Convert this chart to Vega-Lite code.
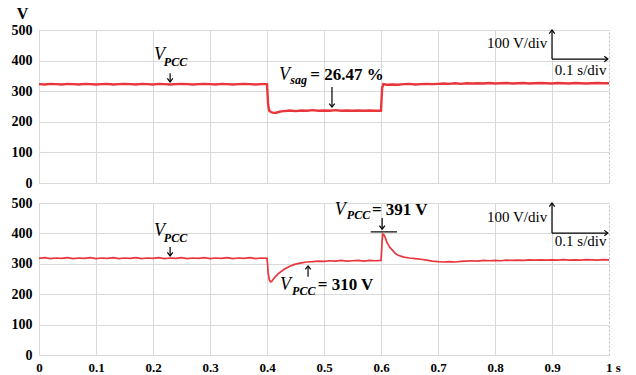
{
  "$schema": "https://vega.github.io/schema/vega-lite/v6.json",
  "padding": {"left": 10, "top": 4, "right": 5, "bottom": 2},
  "spacing": 20,
  "bounds": "flush",
  "background": "white",
  "config": {
    "view": {"stroke": "#bbbbbb", "strokeDash": [2, 2]},
    "axis": {
      "labelFont": "Liberation Serif",
      "labelFontWeight": "bold",
      "labelFontSize": 14,
      "labelColor": "black",
      "labelOverlap": false,
      "ticks": false,
      "domain": false,
      "grid": true,
      "gridColor": "#d9d9d9",
      "gridWidth": 1
    }
  },
  "datasets": {
    "top": [
      {"t":0,"v":323},{"t":0.01,"v":322},{"t":0.02,"v":324},{"t":0.03,"v":323},{"t":0.04,"v":322},{"t":0.05,"v":324},{"t":0.06,"v":323},{"t":0.07,"v":322},{"t":0.08,"v":324},{"t":0.09,"v":323},
      {"t":0.1,"v":322},{"t":0.11,"v":323},{"t":0.12,"v":324},{"t":0.13,"v":322},{"t":0.14,"v":323},{"t":0.15,"v":324},{"t":0.16,"v":323},{"t":0.17,"v":322},{"t":0.18,"v":324},{"t":0.19,"v":323},
      {"t":0.2,"v":322},{"t":0.21,"v":324},{"t":0.22,"v":323},{"t":0.23,"v":322},{"t":0.24,"v":323},{"t":0.25,"v":324},{"t":0.26,"v":323},{"t":0.27,"v":322},{"t":0.28,"v":323},{"t":0.29,"v":324},
      {"t":0.3,"v":323},{"t":0.31,"v":322},{"t":0.32,"v":324},{"t":0.33,"v":323},{"t":0.34,"v":322},{"t":0.35,"v":323},{"t":0.36,"v":324},{"t":0.37,"v":323},{"t":0.38,"v":322},{"t":0.39,"v":323},
      {"t":0.4,"v":323},{"t":0.401,"v":290},{"t":0.402,"v":255},{"t":0.404,"v":236},{"t":0.407,"v":232},{"t":0.41,"v":230},{"t":0.415,"v":229},{"t":0.42,"v":232},{"t":0.425,"v":234},{"t":0.43,"v":235},
      {"t":0.44,"v":237},{"t":0.45,"v":235},{"t":0.46,"v":237},{"t":0.47,"v":236},{"t":0.48,"v":238},{"t":0.49,"v":236},{"t":0.5,"v":237},{"t":0.51,"v":236},{"t":0.52,"v":238},{"t":0.53,"v":236},
      {"t":0.54,"v":237},{"t":0.55,"v":236},{"t":0.56,"v":237},{"t":0.57,"v":236},{"t":0.58,"v":237},{"t":0.59,"v":236},{"t":0.6,"v":236},{"t":0.601,"v":275},{"t":0.602,"v":310},{"t":0.604,"v":323},
      {"t":0.61,"v":321},{"t":0.62,"v":322},{"t":0.63,"v":321},{"t":0.64,"v":323},{"t":0.65,"v":324},{"t":0.66,"v":322},{"t":0.67,"v":323},{"t":0.68,"v":324},{"t":0.69,"v":323},{"t":0.7,"v":324},
      {"t":0.71,"v":325},{"t":0.72,"v":324},{"t":0.73,"v":326},{"t":0.74,"v":324},{"t":0.75,"v":326},{"t":0.76,"v":325},{"t":0.77,"v":326},{"t":0.78,"v":325},{"t":0.79,"v":327},{"t":0.8,"v":325},
      {"t":0.81,"v":326},{"t":0.82,"v":327},{"t":0.83,"v":325},{"t":0.84,"v":326},{"t":0.85,"v":327},{"t":0.86,"v":325},{"t":0.87,"v":326},{"t":0.88,"v":327},{"t":0.89,"v":326},{"t":0.9,"v":325},
      {"t":0.91,"v":327},{"t":0.92,"v":326},{"t":0.93,"v":325},{"t":0.94,"v":327},{"t":0.95,"v":326},{"t":0.96,"v":325},{"t":0.97,"v":326},{"t":0.98,"v":327},{"t":0.99,"v":326},{"t":1.0,"v":326}
    ],
    "bottom": [
      {"t":0,"v":318},{"t":0.01,"v":320},{"t":0.02,"v":317},{"t":0.03,"v":319},{"t":0.04,"v":318},{"t":0.05,"v":320},{"t":0.06,"v":317},{"t":0.07,"v":319},{"t":0.08,"v":318},{"t":0.09,"v":320},
      {"t":0.1,"v":317},{"t":0.11,"v":319},{"t":0.12,"v":318},{"t":0.13,"v":320},{"t":0.14,"v":317},{"t":0.15,"v":319},{"t":0.16,"v":318},{"t":0.17,"v":320},{"t":0.18,"v":317},{"t":0.19,"v":319},
      {"t":0.2,"v":318},{"t":0.21,"v":320},{"t":0.22,"v":317},{"t":0.23,"v":319},{"t":0.24,"v":318},{"t":0.25,"v":320},{"t":0.26,"v":317},{"t":0.27,"v":319},{"t":0.28,"v":318},{"t":0.29,"v":320},
      {"t":0.3,"v":317},{"t":0.31,"v":319},{"t":0.32,"v":318},{"t":0.33,"v":320},{"t":0.34,"v":317},{"t":0.35,"v":319},{"t":0.36,"v":318},{"t":0.37,"v":320},{"t":0.38,"v":317},{"t":0.39,"v":319},
      {"t":0.4,"v":318},{"t":0.401,"v":300},{"t":0.402,"v":270},{"t":0.404,"v":248},{"t":0.406,"v":241},{"t":0.408,"v":242},{"t":0.41,"v":247},{"t":0.415,"v":258},{"t":0.42,"v":268},{"t":0.43,"v":282},
      {"t":0.44,"v":292},{"t":0.45,"v":299},{"t":0.46,"v":303},{"t":0.47,"v":306},{"t":0.48,"v":307},{"t":0.49,"v":309},{"t":0.5,"v":308},{"t":0.51,"v":310},{"t":0.52,"v":309},{"t":0.53,"v":311},
      {"t":0.54,"v":309},{"t":0.55,"v":310},{"t":0.56,"v":311},{"t":0.57,"v":309},{"t":0.58,"v":311},{"t":0.59,"v":310},{"t":0.6,"v":311},{"t":0.601,"v":340},{"t":0.602,"v":375},{"t":0.603,"v":398},
      {"t":0.605,"v":396},{"t":0.608,"v":384},{"t":0.61,"v":372},{"t":0.615,"v":355},{"t":0.62,"v":345},{"t":0.625,"v":334},{"t":0.63,"v":328},{"t":0.64,"v":322},{"t":0.65,"v":319},{"t":0.66,"v":317},
      {"t":0.67,"v":315},{"t":0.68,"v":312},{"t":0.69,"v":309},{"t":0.7,"v":307},{"t":0.71,"v":306},{"t":0.72,"v":307},{"t":0.73,"v":306},{"t":0.74,"v":308},{"t":0.75,"v":309},{"t":0.76,"v":310},
      {"t":0.77,"v":309},{"t":0.78,"v":311},{"t":0.79,"v":310},{"t":0.8,"v":311},{"t":0.81,"v":310},{"t":0.82,"v":312},{"t":0.83,"v":311},{"t":0.84,"v":312},{"t":0.85,"v":311},{"t":0.86,"v":313},
      {"t":0.87,"v":312},{"t":0.88,"v":313},{"t":0.89,"v":312},{"t":0.9,"v":313},{"t":0.91,"v":312},{"t":0.92,"v":314},{"t":0.93,"v":312},{"t":0.94,"v":313},{"t":0.95,"v":312},{"t":0.96,"v":314},
      {"t":0.97,"v":313},{"t":0.98,"v":312},{"t":0.99,"v":314},{"t":1.0,"v":313}
    ],
    "topRules": [
      {"t":0.23,"v":359,"t2":0.23,"v2":332},
      {"t":0.514,"v":314,"t2":0.514,"v2":250},
      {"t":0.9,"v":405,"t2":0.9,"v2":499},
      {"t":0.9,"v":405,"t2":0.997,"v2":405}
    ],
    "topHeads": [
      {"t":0.23,"v":330,"dir":"down"},
      {"t":0.514,"v":248,"dir":"down"},
      {"t":0.9,"v":500,"dir":"up"},
      {"t":0.998,"v":405,"dir":"right"}
    ],
    "topText": [
      {"t":0.2018,"v":402,"text":"V","kind":"sym"},
      {"t":0.219,"v":382,"text":"PCC","kind":"sub"},
      {"t":0.421,"v":337,"text":"V","kind":"sym"},
      {"t":0.441,"v":323,"text":"sag","kind":"sub"},
      {"t":0.476,"v":337,"text":"= 26.47 %","kind":"eq"},
      {"t":0.786,"v":441,"text":"100 V/div","kind":"scale"},
      {"t":0.905,"v":353,"text":"0.1 s/div","kind":"scale"}
    ],
    "botRules": [
      {"t":0.23,"v":355,"t2":0.23,"v2":328},
      {"t":0.472,"v":257,"t2":0.472,"v2":291},
      {"t":0.602,"v":451,"t2":0.602,"v2":416},
      {"t":0.582,"v":405,"t2":0.628,"v2":405},
      {"t":0.9,"v":401,"t2":0.9,"v2":499},
      {"t":0.9,"v":401,"t2":0.997,"v2":401}
    ],
    "botHeads": [
      {"t":0.23,"v":326,"dir":"down"},
      {"t":0.472,"v":293,"dir":"up"},
      {"t":0.602,"v":414,"dir":"down"},
      {"t":0.9,"v":500,"dir":"up"},
      {"t":0.998,"v":401,"dir":"right"}
    ],
    "botText": [
      {"t":0.2018,"v":391,"text":"V","kind":"sym"},
      {"t":0.219,"v":372,"text":"PCC","kind":"sub"},
      {"t":0.423,"v":214,"text":"V","kind":"sym"},
      {"t":0.444,"v":197,"text":"PCC","kind":"sub"},
      {"t":0.489,"v":214,"text":"= 310 V","kind":"eq"},
      {"t":0.519,"v":461,"text":"V","kind":"sym"},
      {"t":0.540,"v":447,"text":"PCC","kind":"sub"},
      {"t":0.584,"v":461,"text":"= 391 V","kind":"eq"},
      {"t":0.786,"v":437,"text":"100 V/div","kind":"scale"},
      {"t":0.905,"v":358,"text":"0.1 s/div","kind":"scale"}
    ]
  },
  "vconcat": [
    {
      "width": 570,
      "height": 153,
      "encoding": {
        "x": {"field": "t", "type": "quantitative", "scale": {"domain": [0, 1], "nice": false},
              "axis": {"title": null, "labels": false, "values": [0,0.1,0.2,0.3,0.4,0.5,0.6,0.7,0.8,0.9,1],
                       "gridColor": {"condition": {"test": "datum.value == 1", "value": "transparent"}, "value": "#d9d9d9"}}},
        "y": {"field": "v", "type": "quantitative", "scale": {"domain": [0, 500], "nice": false},
              "axis": {"title": "V", "values": [0,100,200,300,400,500], "tickCount": 6, "labelPadding": 7, "labelOverlap": false, "labelSeparation": 0,
                       "titleAngle": 0, "titleX": -17, "titleY": -12, "titleAlign": "center", "titleBaseline": "alphabetic",
                       "titleFont": "Liberation Serif", "titleFontWeight": "bold", "titleFontSize": 16, "titleColor": "black"}}
      },
      "layer": [
        {
          "data": {"name": "top"},
          "mark": {"type": "line", "color": "#e8363c", "strokeWidth": 2.4}
        },
        {
          "data": {"name": "topRules"},
          "mark": {"type": "rule", "color": "black", "strokeWidth": 1.2},
          "encoding": {"x2": {"field": "t2"}, "y2": {"field": "v2"}}
        },
        {
          "data": {"name": "topHeads"},
          "transform": [{"filter": "datum.dir == 'down'"}],
          "mark": {"type": "point", "shape": "M-1,-1.3L0,0L1,-1.3", "filled": false, "stroke": "black", "strokeWidth": 1.2, "size": 30, "opacity": 1}
        },
        {
          "data": {"name": "topHeads"},
          "transform": [{"filter": "datum.dir == 'up'"}],
          "mark": {"type": "point", "shape": "M-1,1.3L0,0L1,1.3", "filled": false, "stroke": "black", "strokeWidth": 1.2, "size": 30, "opacity": 1}
        },
        {
          "data": {"name": "topHeads"},
          "transform": [{"filter": "datum.dir == 'right'"}],
          "mark": {"type": "point", "shape": "M-1.3,-1L0,0L-1.3,1", "filled": false, "stroke": "black", "strokeWidth": 1.2, "size": 30, "opacity": 1}
        },
        {
          "data": {"name": "topText"},
          "transform": [{"filter": "datum.kind == 'sym'"}],
          "mark": {"type": "text", "align": "left", "baseline": "alphabetic", "font": "Liberation Serif", "fontSize": 18, "fontStyle": "italic", "color": "black"},
          "encoding": {"text": {"field": "text"}}
        },
        {
          "data": {"name": "topText"},
          "transform": [{"filter": "datum.kind == 'sub'"}],
          "mark": {"type": "text", "align": "left", "baseline": "alphabetic", "font": "Liberation Serif", "fontSize": 12, "fontStyle": "italic", "fontWeight": "bold", "color": "black"},
          "encoding": {"text": {"field": "text"}}
        },
        {
          "data": {"name": "topText"},
          "transform": [{"filter": "datum.kind == 'eq'"}],
          "mark": {"type": "text", "align": "left", "baseline": "alphabetic", "font": "Liberation Serif", "fontSize": 17, "fontWeight": "bold", "color": "black"},
          "encoding": {"text": {"field": "text"}}
        },
        {
          "data": {"name": "topText"},
          "transform": [{"filter": "datum.kind == 'scale'"}],
          "mark": {"type": "text", "align": "left", "baseline": "alphabetic", "font": "Liberation Serif", "fontSize": 15, "color": "black"},
          "encoding": {"text": {"field": "text"}}
        }
      ]
    },
    {
      "width": 570,
      "height": 152,
      "encoding": {
        "x": {"field": "t", "type": "quantitative", "scale": {"domain": [0, 1], "nice": false},
              "axis": {"title": null, "values": [0,0.1,0.2,0.3,0.4,0.5,0.6,0.7,0.8,0.9,1], "labelPadding": 6, "labelFlush": false,
                       "labelFontSize": 13, "labelOverlap": false,
                       "labelExpr": "datum.value == 1 ? '1 s' : format(datum.value, '.1~f')",
                       "labelOffset": {"condition": {"test": "datum.value == 1", "value": 4}, "value": 0},
                       "gridColor": {"condition": {"test": "datum.value == 1", "value": "transparent"}, "value": "#d9d9d9"}}},
        "y": {"field": "v", "type": "quantitative", "scale": {"domain": [0, 500], "nice": false},
              "axis": {"title": null, "values": [0,100,200,300,400,500], "tickCount": 6, "labelPadding": 7, "labelOverlap": false, "labelSeparation": 0}}
      },
      "layer": [
        {
          "data": {"name": "bottom"},
          "mark": {"type": "line", "color": "#e8363c", "strokeWidth": 1.7}
        },
        {
          "data": {"name": "botRules"},
          "mark": {"type": "rule", "color": "black", "strokeWidth": 1.2},
          "encoding": {"x2": {"field": "t2"}, "y2": {"field": "v2"}}
        },
        {
          "data": {"name": "botHeads"},
          "transform": [{"filter": "datum.dir == 'down'"}],
          "mark": {"type": "point", "shape": "M-1,-1.3L0,0L1,-1.3", "filled": false, "stroke": "black", "strokeWidth": 1.2, "size": 30, "opacity": 1}
        },
        {
          "data": {"name": "botHeads"},
          "transform": [{"filter": "datum.dir == 'up'"}],
          "mark": {"type": "point", "shape": "M-1,1.3L0,0L1,1.3", "filled": false, "stroke": "black", "strokeWidth": 1.2, "size": 30, "opacity": 1}
        },
        {
          "data": {"name": "botHeads"},
          "transform": [{"filter": "datum.dir == 'right'"}],
          "mark": {"type": "point", "shape": "M-1.3,-1L0,0L-1.3,1", "filled": false, "stroke": "black", "strokeWidth": 1.2, "size": 30, "opacity": 1}
        },
        {
          "data": {"name": "botText"},
          "transform": [{"filter": "datum.kind == 'sym'"}],
          "mark": {"type": "text", "align": "left", "baseline": "alphabetic", "font": "Liberation Serif", "fontSize": 18, "fontStyle": "italic", "color": "black"},
          "encoding": {"text": {"field": "text"}}
        },
        {
          "data": {"name": "botText"},
          "transform": [{"filter": "datum.kind == 'sub'"}],
          "mark": {"type": "text", "align": "left", "baseline": "alphabetic", "font": "Liberation Serif", "fontSize": 12, "fontStyle": "italic", "fontWeight": "bold", "color": "black"},
          "encoding": {"text": {"field": "text"}}
        },
        {
          "data": {"name": "botText"},
          "transform": [{"filter": "datum.kind == 'eq'"}],
          "mark": {"type": "text", "align": "left", "baseline": "alphabetic", "font": "Liberation Serif", "fontSize": 17, "fontWeight": "bold", "color": "black"},
          "encoding": {"text": {"field": "text"}}
        },
        {
          "data": {"name": "botText"},
          "transform": [{"filter": "datum.kind == 'scale'"}],
          "mark": {"type": "text", "align": "left", "baseline": "alphabetic", "font": "Liberation Serif", "fontSize": 15, "color": "black"},
          "encoding": {"text": {"field": "text"}}
        }
      ]
    }
  ]
}
